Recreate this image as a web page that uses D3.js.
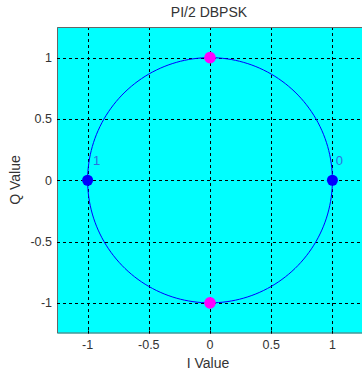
<!DOCTYPE html>
<html><head><meta charset="utf-8">
<script src="https://cdn.jsdelivr.net/npm/d3@7"></script>
<style>body{margin:0;background:#fff}svg{display:block}text{font-family:"Liberation Sans",Arial,sans-serif}</style>
</head><body><div id="c"></div>
<script>
const titleText = "PI/2 DBPSK";
const xLabel = "I Value";
const yLabel = "Q Value";
const xTicks = [-1, -0.5, 0, 0.5, 1];
const yTicks = [-1, -0.5, 0, 0.5, 1];
const tickLabels = ["-1", "-0.5", "0", "0.5", "1"];
const axisLimits = [-1.25, 1.25];
// constellation points
const pointI = [-1, 1, 0, 0];
const pointQ = [0, 0, 1, -1];
const pointGroup = ["even", "even", "odd", "odd"];
const symbolLabels = ["1", "0"];
const symbolI = [-1, 1];
const symbolQ = [0, 0];

const W = 362, H = 376;
const svg = d3.select("#c").append("svg").attr("width", W).attr("height", H);
const x = d3.scaleLinear().domain(axisLimits).range([57, 363]);
const y = d3.scaleLinear().domain(axisLimits).range([333.5, 27]);

const L = x(axisLimits[0]), R = x(axisLimits[1]), T = y(axisLimits[1]), B = y(axisLimits[0]);
svg.append("rect").attr("x", L).attr("y", T).attr("width", R - L).attr("height", B - T).attr("fill", "#00ffff");

const g = svg.append("g");
// grid
g.selectAll(".gx").data(xTicks).join("line")
  .attr("x1", d => Math.round(x(d)) + 0.5).attr("x2", d => Math.round(x(d)) + 0.5)
  .attr("y1", T).attr("y2", B)
  .attr("stroke", "#000").attr("stroke-width", 1).attr("stroke-dasharray", "3,3");
g.selectAll(".gy").data(yTicks).join("line")
  .attr("y1", d => Math.round(y(d)) + 0.5).attr("y2", d => Math.round(y(d)) + 0.5)
  .attr("x1", L).attr("x2", R)
  .attr("stroke", "#000").attr("stroke-width", 1).attr("stroke-dasharray", "3,3");

// unit circle trajectory
const angles = d3.range(0, 361, 2).map(a => a * Math.PI / 180);
const line = d3.line().x(a => x(Math.cos(a))).y(a => y(Math.sin(a)));
g.append("path").datum(angles).attr("d", line).attr("fill", "none").attr("stroke", "#0000ff").attr("stroke-width", 1);

// points
const pts = pointI.map((v, i) => ({i: v, q: pointQ[i], grp: pointGroup[i]}));
g.selectAll(".pt").data(pts).join("circle")
  .attr("cx", d => x(d.i)).attr("cy", d => y(d.q))
  .attr("r", d => d.grp === "odd" ? 5.8 : 5.5)
  .attr("fill", d => d.grp === "odd" ? "#ff00ff" : "#0000ff");

// symbol labels
g.selectAll(".sl").data(symbolLabels).join("text")
  .attr("x", (d, k) => x(symbolI[k]) + (k === 0 ? 9 : 7))
  .attr("y", (d, k) => y(symbolQ[k]) - 15)
  .attr("font-size", 13).attr("fill", "#2f6fe0").attr("text-anchor", "middle")
  .text(d => d);

// frame
svg.append("path").attr("d", `M${R},${T + 0.5}H${L + 0.5}V${B - 0.5}H${R}`)
  .attr("fill", "none").attr("stroke", "#666").attr("stroke-width", 1);

// ticks
svg.selectAll(".tx").data(xTicks).join("line")
  .attr("x1", d => Math.round(x(d)) + 0.5).attr("x2", d => Math.round(x(d)) + 0.5)
  .attr("y1", B).attr("y2", B - 3).attr("stroke", "#000");
svg.selectAll(".ty").data(yTicks).join("line")
  .attr("y1", d => Math.round(y(d)) + 0.5).attr("y2", d => Math.round(y(d)) + 0.5)
  .attr("x1", L).attr("x2", L + 3).attr("stroke", "#000");

// tick labels
svg.selectAll(".xl").data(xTicks).join("text")
  .attr("x", d => x(d)).attr("y", 349).attr("text-anchor", "middle")
  .attr("font-size", 12.5).attr("fill", "#333").text((d, k) => tickLabels[k]);
svg.selectAll(".yl").data(yTicks).join("text")
  .attr("x", 52).attr("y", d => y(d) + 4.5).attr("text-anchor", "end")
  .attr("font-size", 12.5).attr("fill", "#333").text((d, k) => tickLabels[k]);

// titles
svg.append("text").attr("x", 209).attr("y", 17).attr("text-anchor", "middle")
  .attr("font-size", 14).attr("fill", "#333").text(titleText);
svg.append("text").attr("x", 208).attr("y", 368).attr("text-anchor", "middle")
  .attr("font-size", 14).attr("fill", "#333").text(xLabel);
svg.append("text").attr("transform", "translate(20,180) rotate(-90)").attr("text-anchor", "middle")
  .attr("font-size", 14).attr("fill", "#333").text(yLabel);
</script></body></html>
